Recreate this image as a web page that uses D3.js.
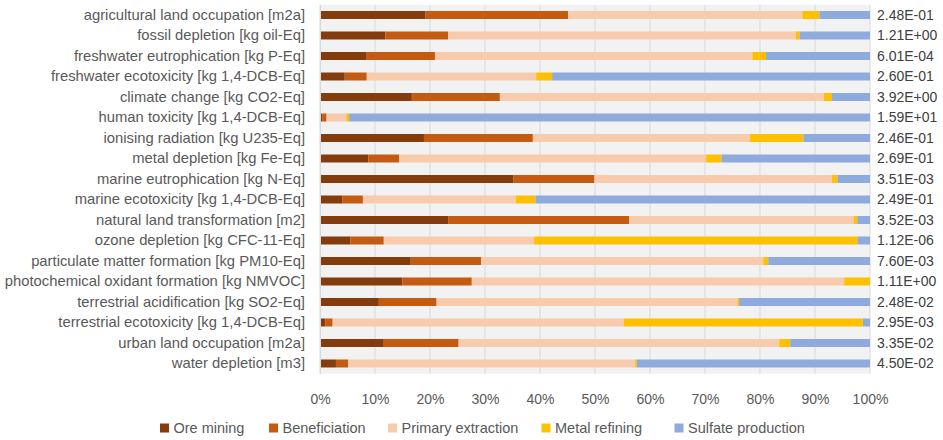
<!DOCTYPE html>
<html>
<head>
<meta charset="utf-8">
<script src="https://cdn.jsdelivr.net/npm/d3@7"></script>
<style>
  html, body { margin: 0; padding: 0; background: #ffffff; }
  svg text { font-family: "Liberation Sans", "DejaVu Sans", sans-serif; }
</style>
</head>
<body>
<svg id="chart" width="943" height="440"></svg>
<script>
// Impact categories (top to bottom)
const categories = [
  "agricultural land occupation [m2a]",
  "fossil depletion [kg oil-Eq]",
  "freshwater eutrophication [kg P-Eq]",
  "freshwater ecotoxicity [kg 1,4-DCB-Eq]",
  "climate change [kg CO2-Eq]",
  "human toxicity [kg 1,4-DCB-Eq]",
  "ionising radiation [kg U235-Eq]",
  "metal depletion [kg Fe-Eq]",
  "marine eutrophication [kg N-Eq]",
  "marine ecotoxicity [kg 1,4-DCB-Eq]",
  "natural land transformation [m2]",
  "ozone depletion [kg CFC-11-Eq]",
  "particulate matter formation [kg PM10-Eq]",
  "photochemical oxidant formation [kg NMVOC]",
  "terrestrial acidification [kg SO2-Eq]",
  "terrestrial ecotoxicity [kg 1,4-DCB-Eq]",
  "urban land occupation [m2a]",
  "water depletion [m3]"
];

// Total impact per category
const totals = [
  "2.48E-01", "1.21E+00", "6.01E-04", "2.60E-01", "3.92E+00", "1.59E+01",
  "2.46E-01", "2.69E-01", "3.51E-03", "2.49E-01", "3.52E-03", "1.12E-06",
  "7.60E-03", "1.11E+00", "2.48E-02", "2.95E-03", "3.35E-02", "4.50E-02"
];

// Contribution shares (%) of each life-cycle stage
const oreMining          = [19.2, 11.9, 8.5, 4.5, 16.7, 0.4, 18.9, 8.8, 35.2, 4.1, 23.3, 5.5, 16.5, 15.0, 10.7, 1.0, 11.6, 2.9];
const beneficiation      = [25.9, 11.4, 12.4, 4.0, 16.0, 0.8, 19.8, 5.6, 14.7, 3.7, 32.9, 6.1, 12.8, 12.6, 10.5, 1.3, 13.6, 2.2];
const primaryExtraction  = [42.6, 63.2, 57.7, 30.8, 58.9, 3.6, 39.5, 55.8, 43.2, 27.8, 40.8, 27.3, 51.3, 67.7, 54.7, 52.9, 58.3, 52.2];
const metalRefining      = [3.1, 0.7, 2.5, 2.9, 1.5, 0.5, 9.7, 2.8, 1.0, 3.6, 0.7, 58.9, 0.9, 4.7, 0.3, 43.5, 2.0, 0.3];
const sulfateProduction  = [9.2, 12.8, 18.9, 57.8, 6.9, 94.7, 12.1, 27.0, 5.9, 60.8, 2.3, 2.2, 18.5, 0.0, 23.8, 1.3, 14.5, 42.4];

const seriesNames  = ["Ore mining", "Beneficiation", "Primary extraction", "Metal refining", "Sulfate production"];
const seriesColors = ["#843c0c", "#c55a11", "#f8cbad", "#ffc000", "#8faadc"];
const xTicks = [0, 0.1, 0.2, 0.3, 0.4, 0.5, 0.6, 0.7, 0.8, 0.9, 1.0];

const keys = ["ore", "ben", "pri", "ref", "sul"];
const rows = categories.map((c, i) => {
  const vals = [oreMining[i], beneficiation[i], primaryExtraction[i], metalRefining[i], sulfateProduction[i]];
  const sum = d3.sum(vals);
  const r = { category: c, total: totals[i] };
  keys.forEach((k, j) => r[k] = vals[j] / sum);
  return r;
});

const svg = d3.select("#chart");
const plot = { left: 320, right: 870, top: 4.75, bottom: 373.75 };

const x = d3.scaleLinear().domain([0, 1]).range([plot.left, plot.right]);
const y = d3.scaleBand().domain(categories).range([plot.top, plot.bottom]).paddingInner(0.61).paddingOuter(0.305);
const color = d3.scaleOrdinal().domain(keys).range(seriesColors);

// plot background
svg.append("rect")
  .attr("x", plot.left).attr("y", plot.top)
  .attr("width", plot.right - plot.left).attr("height", plot.bottom - plot.top)
  .attr("fill", "#f2f2f2");

// vertical gridlines
svg.append("g")
  .selectAll("line")
  .data(xTicks)
  .join("line")
  .attr("x1", d => x(d)).attr("x2", d => x(d))
  .attr("y1", plot.top).attr("y2", plot.bottom)
  .attr("stroke", "#d9d9d9").attr("stroke-width", 1);

// stacked bars
const stacked = d3.stack().keys(keys)(rows);
svg.append("g")
  .selectAll("g")
  .data(stacked)
  .join("g")
  .attr("fill", d => color(d.key))
  .selectAll("rect")
  .data(d => d)
  .join("rect")
  .attr("x", d => x(d[0]))
  .attr("y", d => y(d.data.category))
  .attr("width", d => Math.max(0, x(d[1]) - x(d[0])))
  .attr("height", y.bandwidth());

// category axis
const yAxis = svg.append("g")
  .attr("transform", `translate(${plot.left},0)`)
  .call(d3.axisLeft(y).tickSize(0).tickPadding(15));
yAxis.select(".domain").attr("stroke", "#d9d9d9");
yAxis.selectAll("text")
  .attr("fill", "#595959")
  .style("font-size", "14.8px");

// percentage axis
const xAxis = svg.append("g")
  .attr("transform", `translate(0,${plot.bottom})`)
  .call(d3.axisBottom(x).tickValues(xTicks).tickFormat(d3.format(".0%")).tickSize(0).tickPadding(20));
xAxis.select(".domain").remove();
xAxis.selectAll("text")
  .attr("fill", "#595959")
  .style("font-size", "14px");

// totals on the right
svg.append("g")
  .selectAll("text")
  .data(rows)
  .join("text")
  .attr("x", plot.right + 7)
  .attr("y", d => y(d.category) + y.bandwidth() / 2)
  .attr("dy", "0.35em")
  .attr("fill", "#404040")
  .style("font-size", "14px")
  .text(d => d.total);

// legend
const legendX = [160, 269, 388, 541.5, 674.5];
const legend = svg.append("g")
  .selectAll("g")
  .data(seriesNames)
  .join("g")
  .attr("transform", (d, i) => `translate(${legendX[i]},428)`);
legend.append("rect")
  .attr("x", 0).attr("y", -4.5)
  .attr("width", 9).attr("height", 9)
  .attr("fill", (d, i) => seriesColors[i]);
legend.append("text")
  .attr("x", 13.5)
  .attr("dy", "0.35em")
  .attr("fill", "#595959")
  .style("font-size", "14.5px")
  .text(d => d);
</script>
</body>
</html>
